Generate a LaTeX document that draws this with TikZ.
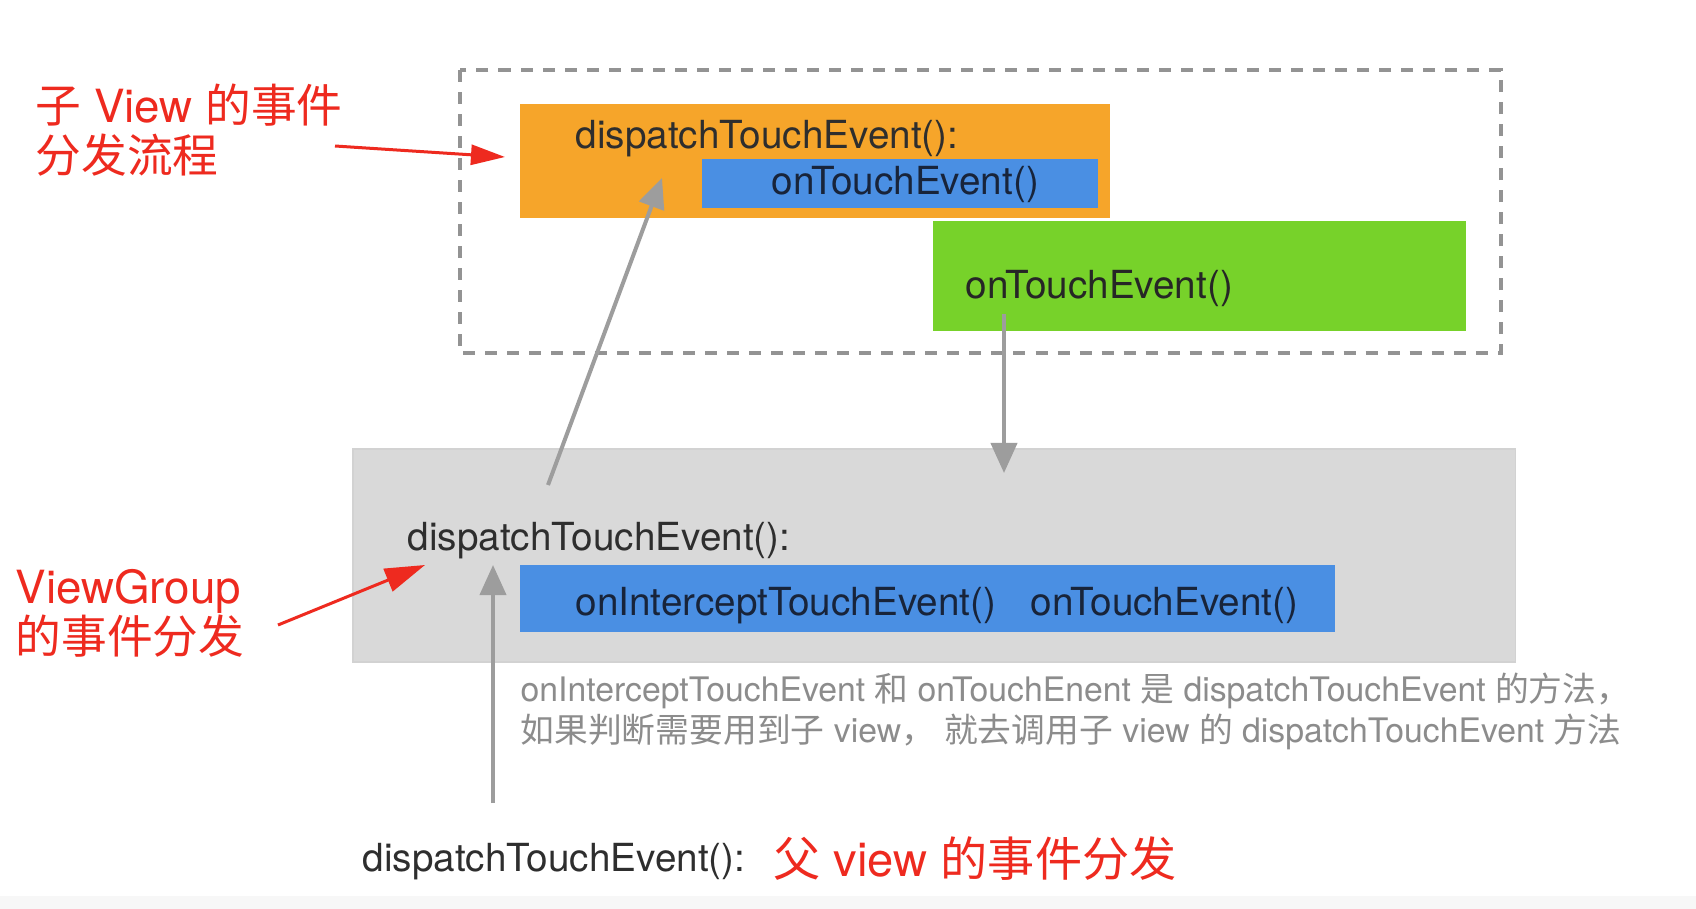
\documentclass[tikz,border=0pt]{standalone}
\usepackage{fontspec}
\setmainfont{TeX Gyre Heros}
\newfontfamily\cjk{Noto Sans CJK SC}
\usetikzlibrary{arrows.meta}
\newcommand{\zh}[1]{{\cjk #1}}
\definecolor{boxorange}{HTML}{F6A52A}
\definecolor{boxblue}{HTML}{4A8FE3}
\definecolor{boxgreen}{HTML}{77D22A}
\definecolor{boxgray}{HTML}{D9D9D9}
\definecolor{labelred}{HTML}{EE2A1F}
\definecolor{arrowgray}{HTML}{9D9D9D}
\definecolor{codetext}{HTML}{2E2E2E}
\definecolor{bluetext}{HTML}{18243A}
\definecolor{notegray}{HTML}{8C8C8C}
\tikzset{
  box/.style={inner sep=0pt, anchor=north west},
  code/.style={inner sep=0pt, anchor=west, text=codetext, font=\fontsize{11}{13}\selectfont},
  redlabel/.style={inner sep=0pt, anchor=west, align=left, text=labelred, font=\fontsize{13}{14.2}\selectfont},
  flow/.style={draw=arrowgray, line width=0.04cm, -{Triangle[length=0.30cm,width=0.26cm]}},
  pointer/.style={draw=labelred, line width=0.03cm, -{Triangle[length=0.34cm,width=0.2cm]}}
}
\begin{document}
\begin{tikzpicture}[x=0.01cm,y=-0.01cm]
    % canvas
    \fill[white] (0,0) rectangle (1696,909);
    \fill[gray!6] (0,896) rectangle (1696,909);
    \useasboundingbox (0,0) rectangle (1696,909);

    % child view area
    \draw[draw=gray!85, line width=0.035cm, dash pattern=on 0.12cm off 0.1cm] (460,70) rectangle (1501,353);
    \node[box, fill=boxorange, minimum width=5.90cm, minimum height=1.14cm] (childbox) at (519,103) {};
    \node[box, fill=boxblue, minimum width=3.96cm, minimum height=0.49cm] (childtouch) at (701,158) {};
    \node[box, fill=boxgreen, minimum width=5.33cm, minimum height=1.10cm] (greenbox) at (932,220) {};
    \node[code] (childdispatch) at (575,139) {dispatchTouchEvent():};
    \node[code, text=bluetext] (childtouchtxt) at (771,184) {onTouchEvent()};
    \node[code, text=black!85] (greentxt) at (965,288) {onTouchEvent()};

    % view group area
    \node[box, fill=boxgray, draw=gray!35, line width=0.015cm, minimum width=11.62cm, minimum height=2.13cm] (groupbox) at (352,448) {};
    \node[box, fill=boxblue, minimum width=8.15cm, minimum height=0.67cm] (groupbar) at (519,564) {};
    \node[code] (groupdispatch) at (407,541) {dispatchTouchEvent():};
    \node[code, text=bluetext] (grouptouch) at (575,606) {onInterceptTouchEvent()\hspace{0.9em}onTouchEvent()};

    % note
    \node[inner sep=0pt, anchor=west, align=left, text=notegray, font=\fontsize{9.6}{11.7}\selectfont] (note) at (520,711)
      {onInterceptTouchEvent \zh{和} onTouchEnent \zh{是} dispatchTouchEvent \zh{的方法，}\\
       \zh{如果判断需要用到子} view\zh{，} \zh{就去调用子} view \zh{的} dispatchTouchEvent \zh{方法}};

    % parent view
    \node[code] (parentdispatch) at (362,862) {dispatchTouchEvent():};
    \node[redlabel, font=\fontsize{13.4}{15}\selectfont] (parentlabel) at (773,859) {\zh{父} view \zh{的事件分发}};

    % side labels
    \node[redlabel] (childlabel) at (35,130) {\zh{子} View \zh{的事件}\\\zh{分发流程}};
    \node[redlabel] (grouplabel) at (15,613) {ViewGroup\\\zh{的事件分发}};

    % flow arrows
    \coordinate (upstart) at (548,485);
    \coordinate (uptip) at (662,178);
    \coordinate (downstart) at (1004,314);
    \coordinate (downtip) at (1004,473);
    \coordinate (basestart) at (493,803);
    \coordinate (basetip) at (493,565);
    \draw[flow] (upstart) -- (uptip);
    \draw[flow] (downstart) -- (downtip);
    \draw[flow] (basestart) -- (basetip);

    % red pointers
    \coordinate (childfrom) at (335,146);
    \coordinate (childto) at (505,157);
    \coordinate (groupfrom) at (278,625);
    \coordinate (groupto) at (425,565);
    \draw[pointer] (childfrom) -- (childto);
    \draw[pointer, -{Triangle[length=0.4cm,width=0.24cm]}] (groupfrom) -- (groupto);
\end{tikzpicture}
\end{document}
